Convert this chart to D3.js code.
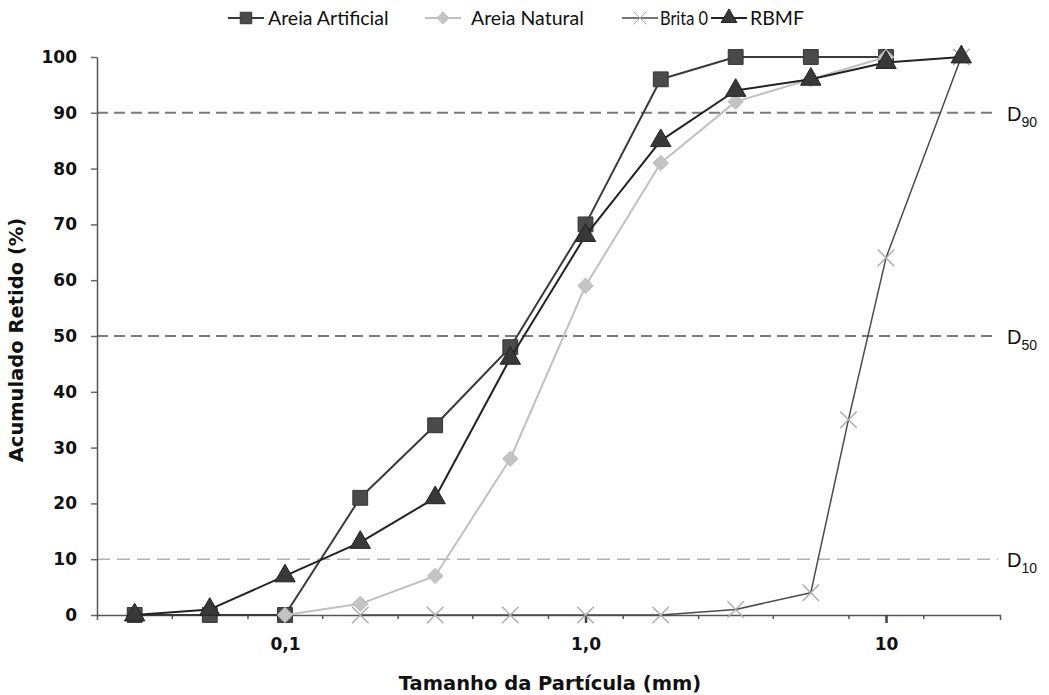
<!DOCTYPE html>
<html>
<head>
<meta charset="utf-8">
<script src="https://cdn.jsdelivr.net/npm/d3@7"></script>
<style>
  body { margin: 0; background: #fff; }
  svg { display: block; }
  .tick text { font-family: "DejaVu Sans", sans-serif; font-weight: bold; font-size: 17px; fill: #111; }
</style>
</head>
<body>
<svg id="chart"></svg>
<script>
// particle sizes (mm)
const sizes = [0.0316, 0.0562, 0.1, 0.178, 0.316, 0.562, 1.0, 1.78, 3.16, 5.62, 10, 17.8];
const britaSizes = [0.178, 0.316, 0.562, 1.0, 1.78, 3.16, 5.62, 7.5, 10, 17.8];

// cumulative retained (%)
const areiaArtificial = [0, 0, 0, 21, 34, 48, 70, 96, 100, 100, 100];
const areiaNatural = [null, null, 0, 2, 7, 28, 59, 81, 92, 96, 100];
const brita0 = [0, 0, 0, 0, 0, 1, 4, 35, 64, 100];
const rbmf = [0, 1, 7, 13, 21, 46, 68, 85, 94, 96, 99, 100];

const yTicks = [0, 10, 20, 30, 40, 50, 60, 70, 80, 90, 100];
const xMajorTicks = [0.1, 1, 10];
const xMajorLabels = ["0,1", "1,0", "10"];
const xMinorTicks = [0.042, 0.075, 0.133, 0.237, 0.42, 0.75, 1.33, 2.37, 4.2, 7.5, 13.3];

const refLines = [90, 50, 10];
const refLabels = ["90", "50", "10"];

const W = 1049, H = 695;
const margin = {top: 57, right: 49, bottom: 80, left: 97};
const width = W - margin.left - margin.right;
const height = H - margin.top - margin.bottom;

const x = d3.scaleLog().domain([0.02368, 23.95]).range([0, width]);
const y = d3.scaleLinear().domain([0, 100]).range([height, 0]);

const svg = d3.select("#chart").attr("width", W).attr("height", H);
const g = svg.append("g").attr("transform", `translate(${margin.left},${margin.top})`);

// reference lines D90 / D50 / D10
refLines.forEach((v, i) => {
    const light = v === 10;
    g.append("line")
        .attr("x1", 0).attr("x2", width - 2)
        .attr("y1", y(v)).attr("y2", y(v))
        .attr("stroke", light ? "#b3b3b3" : "#7a7a7a")
        .attr("stroke-width", light ? 1.6 : 2)
        .attr("stroke-dasharray", light ? "13,7" : "11,6");
    const t = g.append("text")
        .attr("x", width + 7).attr("y", y(v) + 8)
        .attr("font-family", "Liberation Sans, Arial, sans-serif")
        .attr("font-size", 20).attr("fill", "#111");
    t.append("tspan").text("D");
    t.append("tspan").attr("dy", 6).attr("font-size", 14).text(refLabels[i]);
});

// y axis
const yAxis = g.append("g")
    .call(d3.axisLeft(y).tickValues(yTicks).tickSize(6).tickSizeOuter(0).tickPadding(14));
yAxis.select(".domain").attr("stroke", "#555").attr("stroke-width", 1.5);
yAxis.selectAll(".tick line").attr("stroke", "#666").attr("stroke-width", 1.5);

// x axis, minor ticks
const xMinor = g.append("g")
    .attr("transform", `translate(0,${height})`)
    .call(d3.axisBottom(x).tickValues(xMinorTicks).tickSize(4).tickSizeOuter(5).tickFormat(""));
xMinor.select(".domain").attr("stroke", "#555").attr("stroke-width", 1.5);
xMinor.selectAll(".tick line").attr("stroke", "#555").attr("stroke-width", 1.5);

// x axis, major ticks with labels
const xMajor = g.append("g")
    .attr("transform", `translate(0,${height})`)
    .call(d3.axisBottom(x).tickValues(xMajorTicks).tickSize(8).tickPadding(15)
        .tickFormat((d, i) => xMajorLabels[i]));
xMajor.select(".domain").remove();
xMajor.selectAll(".tick line").attr("stroke", "#444").attr("stroke-width", 2.5);

// axis titles
g.append("text")
    .attr("transform", `translate(${-74},${283}) rotate(-90)`)
    .attr("text-anchor", "middle")
    .attr("font-family", "DejaVu Sans, sans-serif").attr("font-weight", "bold")
    .attr("font-size", 19.5).attr("fill", "#111")
    .text("Acumulado Retido (%)");

g.append("text")
    .attr("x", 453).attr("y", height + 75)
    .attr("text-anchor", "middle")
    .attr("font-family", "DejaVu Sans, sans-serif").attr("font-weight", "bold")
    .attr("font-size", 19.5).attr("fill", "#111")
    .text("Tamanho da Partícula (mm)");

// series
const series = [
    {name: "Areia Artificial", xs: sizes, ys: areiaArtificial, line: "#3a3a3a", lw: 2,
     symbol: d3.symbolSquare, size: 220, fill: "#4a4a4a", stroke: "#333"},
    {name: "Areia Natural", xs: sizes, ys: areiaNatural, line: "#c0c0c0", lw: 2,
     symbol: d3.symbolDiamond2, size: 150, fill: "#c4c4c4", stroke: "#bbb"},
    {name: "Brita 0", xs: britaSizes, ys: brita0, line: "#4a4a4a", lw: 1.5,
     symbol: d3.symbolTimes, size: 180, fill: "none", stroke: "#aaa"},
    {name: "RBMF", xs: sizes, ys: rbmf, line: "#222", lw: 2,
     symbol: d3.symbolTriangle, size: 180, fill: "#383838", stroke: "#222"}
];

const line = d3.line()
    .defined(d => d[1] !== null)
    .x(d => x(d[0]))
    .y(d => y(d[1]));

series.forEach(s => {
    const pts = s.ys.map((v, i) => [s.xs[i], v]);
    g.append("path")
        .datum(pts)
        .attr("fill", "none")
        .attr("stroke", s.line)
        .attr("stroke-width", s.lw)
        .attr("stroke-linejoin", "round")
        .attr("d", line);
    g.selectAll(null)
        .data(pts.filter(d => d[1] !== null))
        .enter()
        .append("path")
        .attr("transform", d => `translate(${x(d[0])},${y(d[1])})`)
        .attr("d", d3.symbol().type(s.symbol).size(s.size))
        .attr("fill", s.fill)
        .attr("stroke", s.stroke)
        .attr("stroke-width", s.symbol === d3.symbolTimes ? 1.4 : 1);
});

// legend
const legendX = [228, 425, 622, 711];
const legendTextX = [40, 46, 38, 39];
const legend = svg.append("g");
series.forEach((s, i) => {
    const item = legend.append("g").attr("transform", `translate(${legendX[i]},18)`);
    item.append("line")
        .attr("x1", 0).attr("x2", 36)
        .attr("stroke", s.line).attr("stroke-width", s.lw);
    item.append("path")
        .attr("transform", "translate(18,0)")
        .attr("d", d3.symbol().type(s.symbol).size(s.size * 0.6))
        .attr("fill", s.fill).attr("stroke", s.stroke);
    const t = item.append("text")
        .attr("x", legendTextX[i]).attr("y", 7)
        .attr("font-family", "Lato, sans-serif")
        .attr("font-size", 19.5).attr("fill", "#111")
        .text(s.name);
    // Brita 0 sits tight against the RBMF entry
    if (s.name === "Brita 0") t.attr("textLength", 48).attr("lengthAdjust", "spacingAndGlyphs");
});
</script>
</body>
</html>
